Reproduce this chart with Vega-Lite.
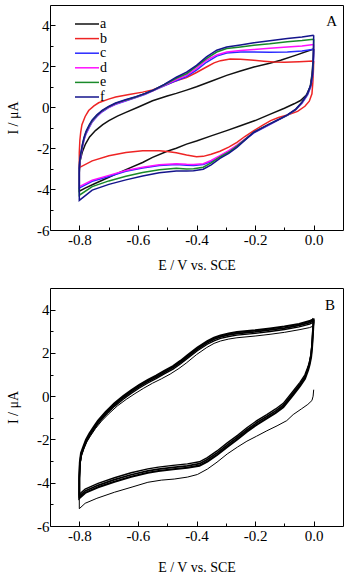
{
  "$schema": "https://vega.github.io/schema/vega-lite/v6.json",
  "padding": {"left": 6, "top": 4, "right": 0, "bottom": 0},
  "background": "white",
  "config": {
    "font": "Liberation Serif",
    "view": {"stroke": "black", "strokeWidth": 1},
    "axis": {
      "domain": false, "grid": false,
      "labelFont": "Liberation Serif", "labelFontSize": 15, "labelColor": "black",
      "titleFont": "Liberation Serif", "titleFontSize": 14, "titleFontWeight": "normal", "titleColor": "black",
      "tickColor": "black", "tickWidth": 1
    }
  },
  "spacing": 14,
  "vconcat": [
    {
      "width": 293, "height": 225,
      "title": {"text": "A", "anchor": "end", "offset": -36, "dx": -6, "fontSize": 15, "fontWeight": "normal", "font": "Liberation Serif", "baseline": "alphabetic", "color": "black"},
      "data": {"values": [
        {"s":"a","x":0,"y":2.85},{"s":"a","x":-0.002,"y":2.3},{"s":"a","x":-0.006,"y":1.6},{"s":"a","x":-0.012,"y":1.0},{"s":"a","x":-0.025,"y":0.6},{"s":"a","x":-0.045,"y":0.33},{"s":"a","x":-0.067,"y":0.17},{"s":"a","x":-0.1,"y":-0.05},{"s":"a","x":-0.15,"y":-0.35},{"s":"a","x":-0.2,"y":-0.65},{"s":"a","x":-0.25,"y":-0.9},{"s":"a","x":-0.297,"y":-1.14},{"s":"a","x":-0.35,"y":-1.4},{"s":"a","x":-0.4,"y":-1.65},{"s":"a","x":-0.434,"y":-1.8},{"s":"a","x":-0.469,"y":-2.0},{"s":"a","x":-0.5,"y":-2.15},{"s":"a","x":-0.55,"y":-2.45},{"s":"a","x":-0.584,"y":-2.7},{"s":"a","x":-0.641,"y":-3.05},{"s":"a","x":-0.699,"y":-3.42},{"s":"a","x":-0.75,"y":-3.75},{"s":"a","x":-0.78,"y":-3.95},{"s":"a","x":-0.8,"y":-4.1},
        {"s":"a","x":-0.8,"y":-3.2},{"s":"a","x":-0.797,"y":-2.6},{"s":"a","x":-0.79,"y":-2.2},{"s":"a","x":-0.779,"y":-1.8},{"s":"a","x":-0.765,"y":-1.45},{"s":"a","x":-0.745,"y":-1.14},{"s":"a","x":-0.72,"y":-0.85},{"s":"a","x":-0.699,"y":-0.65},{"s":"a","x":-0.67,"y":-0.43},{"s":"a","x":-0.641,"y":-0.25},{"s":"a","x":-0.6,"y":0.0},{"s":"a","x":-0.55,"y":0.32},{"s":"a","x":-0.5,"y":0.55},{"s":"a","x":-0.469,"y":0.68},{"s":"a","x":-0.434,"y":0.84},{"s":"a","x":-0.4,"y":1.0},{"s":"a","x":-0.35,"y":1.27},{"s":"a","x":-0.297,"y":1.56},{"s":"a","x":-0.25,"y":1.77},{"s":"a","x":-0.204,"y":1.97},{"s":"a","x":-0.15,"y":2.15},{"s":"a","x":-0.113,"y":2.3},{"s":"a","x":-0.06,"y":2.55},{"s":"a","x":0,"y":2.85},

        {"s":"b","x":0,"y":2.26},{"s":"b","x":-0.001,"y":1.8},{"s":"b","x":-0.003,"y":1.2},{"s":"b","x":-0.006,"y":0.66},{"s":"b","x":-0.015,"y":0.3},{"s":"b","x":-0.03,"y":0.05},{"s":"b","x":-0.055,"y":-0.2},{"s":"b","x":-0.09,"y":-0.38},{"s":"b","x":-0.12,"y":-0.5},{"s":"b","x":-0.147,"y":-0.65},{"s":"b","x":-0.175,"y":-0.88},{"s":"b","x":-0.204,"y":-1.14},{"s":"b","x":-0.235,"y":-1.43},{"s":"b","x":-0.262,"y":-1.72},{"s":"b","x":-0.29,"y":-1.95},{"s":"b","x":-0.32,"y":-2.15},{"s":"b","x":-0.35,"y":-2.3},{"s":"b","x":-0.377,"y":-2.4},{"s":"b","x":-0.4,"y":-2.42},{"s":"b","x":-0.434,"y":-2.33},{"s":"b","x":-0.469,"y":-2.22},{"s":"b","x":-0.5,"y":-2.16},{"s":"b","x":-0.527,"y":-2.13},{"s":"b","x":-0.584,"y":-2.13},{"s":"b","x":-0.641,"y":-2.21},{"s":"b","x":-0.699,"y":-2.37},{"s":"b","x":-0.756,"y":-2.62},{"s":"b","x":-0.8,"y":-2.95},
        {"s":"b","x":-0.8,"y":-2.2},{"s":"b","x":-0.798,"y":-1.6},{"s":"b","x":-0.795,"y":-1.2},{"s":"b","x":-0.791,"y":-0.85},{"s":"b","x":-0.78,"y":-0.45},{"s":"b","x":-0.768,"y":-0.16},{"s":"b","x":-0.75,"y":0.07},{"s":"b","x":-0.734,"y":0.22},{"s":"b","x":-0.7,"y":0.4},{"s":"b","x":-0.676,"y":0.5},{"s":"b","x":-0.63,"y":0.62},{"s":"b","x":-0.584,"y":0.74},{"s":"b","x":-0.55,"y":0.85},{"s":"b","x":-0.527,"y":0.98},{"s":"b","x":-0.5,"y":1.12},{"s":"b","x":-0.469,"y":1.3},{"s":"b","x":-0.434,"y":1.45},{"s":"b","x":-0.4,"y":1.7},{"s":"b","x":-0.366,"y":1.97},{"s":"b","x":-0.34,"y":2.17},{"s":"b","x":-0.318,"y":2.28},{"s":"b","x":-0.285,"y":2.36},{"s":"b","x":-0.25,"y":2.35},{"s":"b","x":-0.204,"y":2.3},{"s":"b","x":-0.17,"y":2.25},{"s":"b","x":-0.136,"y":2.21},{"s":"b","x":-0.1,"y":2.2},{"s":"b","x":-0.05,"y":2.23},{"s":"b","x":0,"y":2.26},

        {"s":"c","x":0,"y":2.84},{"s":"c","x":-0.001,"y":2.2},{"s":"c","x":-0.004,"y":1.5},{"s":"c","x":-0.01,"y":1.0},{"s":"c","x":-0.021,"y":0.6},{"s":"c","x":-0.04,"y":0.2},{"s":"c","x":-0.061,"y":-0.12},{"s":"c","x":-0.09,"y":-0.4},{"s":"c","x":-0.12,"y":-0.62},{"s":"c","x":-0.155,"y":-0.88},{"s":"c","x":-0.204,"y":-1.25},{"s":"c","x":-0.262,"y":-1.88},{"s":"c","x":-0.29,"y":-2.15},{"s":"c","x":-0.32,"y":-2.4},{"s":"c","x":-0.35,"y":-2.65},{"s":"c","x":-0.377,"y":-2.8},{"s":"c","x":-0.41,"y":-2.85},{"s":"c","x":-0.434,"y":-2.83},{"s":"c","x":-0.469,"y":-2.8},{"s":"c","x":-0.527,"y":-2.85},{"s":"c","x":-0.584,"y":-2.97},{"s":"c","x":-0.641,"y":-3.13},{"s":"c","x":-0.699,"y":-3.38},{"s":"c","x":-0.756,"y":-3.62},{"s":"c","x":-0.8,"y":-3.95},
        {"s":"c","x":-0.8,"y":-3.0},{"s":"c","x":-0.799,"y":-2.8},{"s":"c","x":-0.795,"y":-2.4},{"s":"c","x":-0.79,"y":-2.0},{"s":"c","x":-0.784,"y":-1.6},{"s":"c","x":-0.777,"y":-1.3},{"s":"c","x":-0.766,"y":-0.98},{"s":"c","x":-0.756,"y":-0.72},{"s":"c","x":-0.74,"y":-0.45},{"s":"c","x":-0.722,"y":-0.22},{"s":"c","x":-0.7,"y":-0.02},{"s":"c","x":-0.676,"y":0.15},{"s":"c","x":-0.64,"y":0.32},{"s":"c","x":-0.607,"y":0.47},{"s":"c","x":-0.575,"y":0.64},{"s":"c","x":-0.549,"y":0.8},{"s":"c","x":-0.51,"y":1.05},{"s":"c","x":-0.469,"y":1.3},{"s":"c","x":-0.434,"y":1.5},{"s":"c","x":-0.4,"y":1.82},{"s":"c","x":-0.366,"y":2.2},{"s":"c","x":-0.331,"y":2.5},{"s":"c","x":-0.297,"y":2.65},{"s":"c","x":-0.25,"y":2.7},{"s":"c","x":-0.204,"y":2.7},{"s":"c","x":-0.15,"y":2.69},{"s":"c","x":-0.09,"y":2.7},{"s":"c","x":-0.04,"y":2.75},{"s":"c","x":0,"y":2.84},

        {"s":"d","x":0,"y":3.07},{"s":"d","x":-0.001,"y":2.3},{"s":"d","x":-0.004,"y":1.55},{"s":"d","x":-0.01,"y":1.05},{"s":"d","x":-0.021,"y":0.65},{"s":"d","x":-0.04,"y":0.22},{"s":"d","x":-0.061,"y":-0.1},{"s":"d","x":-0.09,"y":-0.38},{"s":"d","x":-0.12,"y":-0.6},{"s":"d","x":-0.155,"y":-0.86},{"s":"d","x":-0.204,"y":-1.23},{"s":"d","x":-0.262,"y":-1.85},{"s":"d","x":-0.29,"y":-2.12},{"s":"d","x":-0.32,"y":-2.37},{"s":"d","x":-0.35,"y":-2.6},{"s":"d","x":-0.377,"y":-2.76},{"s":"d","x":-0.41,"y":-2.8},{"s":"d","x":-0.434,"y":-2.79},{"s":"d","x":-0.469,"y":-2.76},{"s":"d","x":-0.527,"y":-2.81},{"s":"d","x":-0.584,"y":-2.93},{"s":"d","x":-0.641,"y":-3.09},{"s":"d","x":-0.699,"y":-3.33},{"s":"d","x":-0.756,"y":-3.57},{"s":"d","x":-0.8,"y":-3.88},
        {"s":"d","x":-0.8,"y":-3.0},{"s":"d","x":-0.799,"y":-2.75},{"s":"d","x":-0.795,"y":-2.35},{"s":"d","x":-0.79,"y":-1.95},{"s":"d","x":-0.784,"y":-1.56},{"s":"d","x":-0.777,"y":-1.26},{"s":"d","x":-0.766,"y":-0.94},{"s":"d","x":-0.756,"y":-0.69},{"s":"d","x":-0.74,"y":-0.42},{"s":"d","x":-0.722,"y":-0.19},{"s":"d","x":-0.7,"y":0.0},{"s":"d","x":-0.676,"y":0.17},{"s":"d","x":-0.64,"y":0.34},{"s":"d","x":-0.607,"y":0.49},{"s":"d","x":-0.575,"y":0.66},{"s":"d","x":-0.549,"y":0.81},{"s":"d","x":-0.51,"y":1.07},{"s":"d","x":-0.469,"y":1.36},{"s":"d","x":-0.434,"y":1.56},{"s":"d","x":-0.4,"y":1.9},{"s":"d","x":-0.366,"y":2.3},{"s":"d","x":-0.331,"y":2.56},{"s":"d","x":-0.297,"y":2.7},{"s":"d","x":-0.25,"y":2.77},{"s":"d","x":-0.204,"y":2.82},{"s":"d","x":-0.15,"y":2.88},{"s":"d","x":-0.09,"y":2.95},{"s":"d","x":-0.04,"y":3.0},{"s":"d","x":0,"y":3.07},

        {"s":"e","x":0,"y":3.33},{"s":"e","x":-0.001,"y":2.4},{"s":"e","x":-0.004,"y":1.6},{"s":"e","x":-0.01,"y":1.07},{"s":"e","x":-0.021,"y":0.66},{"s":"e","x":-0.04,"y":0.24},{"s":"e","x":-0.061,"y":-0.1},{"s":"e","x":-0.09,"y":-0.38},{"s":"e","x":-0.12,"y":-0.6},{"s":"e","x":-0.155,"y":-0.85},{"s":"e","x":-0.204,"y":-1.22},{"s":"e","x":-0.262,"y":-1.9},{"s":"e","x":-0.29,"y":-2.2},{"s":"e","x":-0.32,"y":-2.43},{"s":"e","x":-0.35,"y":-2.72},{"s":"e","x":-0.377,"y":-2.93},{"s":"e","x":-0.41,"y":-3.0},{"s":"e","x":-0.434,"y":-3.02},{"s":"e","x":-0.469,"y":-2.98},{"s":"e","x":-0.527,"y":-3.05},{"s":"e","x":-0.584,"y":-3.19},{"s":"e","x":-0.641,"y":-3.37},{"s":"e","x":-0.699,"y":-3.6},{"s":"e","x":-0.756,"y":-3.88},{"s":"e","x":-0.8,"y":-4.3},
        {"s":"e","x":-0.8,"y":-3.0},{"s":"e","x":-0.799,"y":-2.7},{"s":"e","x":-0.795,"y":-2.3},{"s":"e","x":-0.79,"y":-1.9},{"s":"e","x":-0.784,"y":-1.52},{"s":"e","x":-0.777,"y":-1.22},{"s":"e","x":-0.766,"y":-0.9},{"s":"e","x":-0.756,"y":-0.66},{"s":"e","x":-0.74,"y":-0.4},{"s":"e","x":-0.722,"y":-0.17},{"s":"e","x":-0.7,"y":0.02},{"s":"e","x":-0.676,"y":0.19},{"s":"e","x":-0.64,"y":0.36},{"s":"e","x":-0.607,"y":0.5},{"s":"e","x":-0.575,"y":0.67},{"s":"e","x":-0.549,"y":0.82},{"s":"e","x":-0.51,"y":1.1},{"s":"e","x":-0.469,"y":1.42},{"s":"e","x":-0.434,"y":1.64},{"s":"e","x":-0.4,"y":2.0},{"s":"e","x":-0.366,"y":2.38},{"s":"e","x":-0.331,"y":2.7},{"s":"e","x":-0.297,"y":2.87},{"s":"e","x":-0.25,"y":2.95},{"s":"e","x":-0.204,"y":3.03},{"s":"e","x":-0.15,"y":3.1},{"s":"e","x":-0.09,"y":3.2},{"s":"e","x":-0.04,"y":3.26},{"s":"e","x":0,"y":3.33},

        {"s":"f","x":0,"y":3.52},{"s":"f","x":-0.001,"y":2.5},{"s":"f","x":-0.004,"y":1.65},{"s":"f","x":-0.01,"y":1.1},{"s":"f","x":-0.021,"y":0.68},{"s":"f","x":-0.04,"y":0.25},{"s":"f","x":-0.061,"y":-0.09},{"s":"f","x":-0.09,"y":-0.37},{"s":"f","x":-0.12,"y":-0.6},{"s":"f","x":-0.155,"y":-0.85},{"s":"f","x":-0.204,"y":-1.22},{"s":"f","x":-0.262,"y":-1.96},{"s":"f","x":-0.29,"y":-2.25},{"s":"f","x":-0.32,"y":-2.5},{"s":"f","x":-0.35,"y":-2.82},{"s":"f","x":-0.377,"y":-3.03},{"s":"f","x":-0.41,"y":-3.1},{"s":"f","x":-0.434,"y":-3.11},{"s":"f","x":-0.469,"y":-3.11},{"s":"f","x":-0.527,"y":-3.2},{"s":"f","x":-0.584,"y":-3.36},{"s":"f","x":-0.641,"y":-3.55},{"s":"f","x":-0.699,"y":-3.77},{"s":"f","x":-0.756,"y":-4.05},{"s":"f","x":-0.8,"y":-4.55},
        {"s":"f","x":-0.8,"y":-3.0},{"s":"f","x":-0.799,"y":-2.65},{"s":"f","x":-0.795,"y":-2.25},{"s":"f","x":-0.79,"y":-1.85},{"s":"f","x":-0.784,"y":-1.48},{"s":"f","x":-0.777,"y":-1.18},{"s":"f","x":-0.766,"y":-0.86},{"s":"f","x":-0.756,"y":-0.62},{"s":"f","x":-0.74,"y":-0.37},{"s":"f","x":-0.722,"y":-0.15},{"s":"f","x":-0.7,"y":0.04},{"s":"f","x":-0.676,"y":0.21},{"s":"f","x":-0.64,"y":0.38},{"s":"f","x":-0.607,"y":0.52},{"s":"f","x":-0.575,"y":0.68},{"s":"f","x":-0.549,"y":0.83},{"s":"f","x":-0.51,"y":1.12},{"s":"f","x":-0.469,"y":1.47},{"s":"f","x":-0.434,"y":1.72},{"s":"f","x":-0.4,"y":2.05},{"s":"f","x":-0.366,"y":2.46},{"s":"f","x":-0.331,"y":2.79},{"s":"f","x":-0.297,"y":2.95},{"s":"f","x":-0.25,"y":3.05},{"s":"f","x":-0.204,"y":3.15},{"s":"f","x":-0.15,"y":3.25},{"s":"f","x":-0.09,"y":3.36},{"s":"f","x":-0.04,"y":3.44},{"s":"f","x":0,"y":3.52}
      ]},
      "mark": {"type": "line", "strokeWidth": 1.5, "clip": true},
      "encoding": {
        "x": {"field": "x", "type": "quantitative",
          "scale": {"domain": [-0.9, 0.1], "nice": false, "zero": false},
          "axis": {"title": "E / V vs. SCE", "titlePadding": 11, "values": [-0.8, -0.7, -0.6, -0.5, -0.4, -0.3, -0.2, -0.1, 0],
            "labelExpr": "round(datum.value*10) % 2 === 0 ? ((datum.value < -0.001 ? '-' : '') + format(abs(datum.value), '.1f')) : ''",
            "tickSize": {"condition": {"test": "round(datum.value*10) % 2 === 0", "value": -5}, "value": -3},
            "labelPadding": 7}},
        "y": {"field": "y", "type": "quantitative",
          "scale": {"domain": [-6, 5], "nice": false, "zero": false},
          "axis": {"title": "I / μA", "titlePadding": 16, "values": [-6, -5, -4, -3, -2, -1, 0, 1, 2, 3, 4],
            "labelExpr": "datum.value % 2 === 0 ? ((datum.value < 0 ? '-' : '') + format(abs(datum.value), 'd')) : ''",
            "tickSize": {"condition": {"test": "datum.value % 2 === 0", "value": -5}, "value": -3},
            "labelPadding": 6}},
        "color": {"field": "s", "type": "nominal",
          "scale": {"domain": ["a", "b", "c", "d", "e", "f"], "range": ["#111111", "#ee2424", "#2a2aff", "#ff10ff", "#1a8a2a", "#14148c"]},
          "legend": {"title": null, "orient": "none", "legendX": 30, "legendY": 12, "symbolType": "M-2,0H2", "symbolSize": 144, "symbolStrokeWidth": 1.5, "labelFontSize": 14, "labelFont": "Liberation Serif", "labelColor": "black", "rowPadding": 0.6, "padding": 0, "labelOffset": 6}},
        "order": {"value": null}
      }
    },
    {
      "width": 293, "height": 238,
      "title": {"text": "B", "anchor": "end", "offset": -37, "dx": -8, "fontSize": 15, "fontWeight": "normal", "font": "Liberation Serif", "baseline": "alphabetic", "color": "black"},
      "data": {"values": [
        {"c":"1","x":0,"y":0.3},{"c":"1","x":-0.002,"y":0.0},{"c":"1","x":-0.006,"y":-0.2},{"c":"1","x":-0.02,"y":-0.38},{"c":"1","x":-0.041,"y":-0.58},{"c":"1","x":-0.07,"y":-0.85},{"c":"1","x":-0.092,"y":-1.13},{"c":"1","x":-0.125,"y":-1.37},{"c":"1","x":-0.16,"y":-1.6},{"c":"1","x":-0.195,"y":-1.85},{"c":"1","x":-0.228,"y":-2.08},{"c":"1","x":-0.26,"y":-2.35},{"c":"1","x":-0.295,"y":-2.67},{"c":"1","x":-0.33,"y":-3.05},{"c":"1","x":-0.363,"y":-3.37},{"c":"1","x":-0.397,"y":-3.62},{"c":"1","x":-0.431,"y":-3.74},{"c":"1","x":-0.476,"y":-3.83},{"c":"1","x":-0.52,"y":-3.88},{"c":"1","x":-0.566,"y":-3.98},{"c":"1","x":-0.62,"y":-4.2},{"c":"1","x":-0.68,"y":-4.44},{"c":"1","x":-0.74,"y":-4.72},{"c":"1","x":-0.78,"y":-4.95},{"c":"1","x":-0.8,"y":-5.2},
        {"c":"1","x":-0.8,"y":-4.2},{"c":"1","x":-0.799,"y":-3.6},{"c":"1","x":-0.797,"y":-3.1},{"c":"1","x":-0.792,"y":-2.75},{"c":"1","x":-0.784,"y":-2.4},{"c":"1","x":-0.773,"y":-2.08},{"c":"1","x":-0.76,"y":-1.8},{"c":"1","x":-0.745,"y":-1.5},{"c":"1","x":-0.724,"y":-1.15},{"c":"1","x":-0.7,"y":-0.82},{"c":"1","x":-0.67,"y":-0.45},{"c":"1","x":-0.64,"y":-0.15},{"c":"1","x":-0.61,"y":0.12},{"c":"1","x":-0.58,"y":0.37},{"c":"1","x":-0.55,"y":0.6},{"c":"1","x":-0.52,"y":0.8},{"c":"1","x":-0.49,"y":1.02},{"c":"1","x":-0.46,"y":1.28},{"c":"1","x":-0.435,"y":1.53},{"c":"1","x":-0.4,"y":1.92},{"c":"1","x":-0.365,"y":2.25},{"c":"1","x":-0.34,"y":2.44},{"c":"1","x":-0.318,"y":2.55},{"c":"1","x":-0.29,"y":2.64},{"c":"1","x":-0.262,"y":2.7},{"c":"1","x":-0.2,"y":2.78},{"c":"1","x":-0.149,"y":2.86},{"c":"1","x":-0.1,"y":2.95},{"c":"1","x":-0.05,"y":3.07},{"c":"1","x":-0.014,"y":3.17},{"c":"1","x":0,"y":3.25},

        {"c":"2","x":0,"y":3.45},{"c":"2","x":-0.002,"y":3.2},{"c":"2","x":-0.004,"y":2.75},{"c":"2","x":-0.006,"y":2.37},{"c":"2","x":-0.009,"y":1.98},{"c":"2","x":-0.014,"y":1.63},{"c":"2","x":-0.019,"y":1.38},{"c":"2","x":-0.03,"y":0.99},{"c":"2","x":-0.047,"y":0.64},{"c":"2","x":-0.07,"y":0.24},{"c":"2","x":-0.104,"y":-0.33},{"c":"2","x":-0.13,"y":-0.59},{"c":"2","x":-0.16,"y":-0.85},{"c":"2","x":-0.194,"y":-1.13},{"c":"2","x":-0.228,"y":-1.46},{"c":"2","x":-0.26,"y":-1.81},{"c":"2","x":-0.295,"y":-2.16},{"c":"2","x":-0.33,"y":-2.53},{"c":"2","x":-0.363,"y":-2.84},{"c":"2","x":-0.39,"y":-3.03},{"c":"2","x":-0.431,"y":-3.13},{"c":"2","x":-0.48,"y":-3.2},{"c":"2","x":-0.53,"y":-3.28},{"c":"2","x":-0.566,"y":-3.36},{"c":"2","x":-0.623,"y":-3.54},{"c":"2","x":-0.68,"y":-3.77},{"c":"2","x":-0.736,"y":-4.03},{"c":"2","x":-0.78,"y":-4.29},{"c":"2","x":-0.8,"y":-4.53},
        {"c":"2","x":-0.8,"y":-3.87},{"c":"2","x":-0.798,"y":-3.2},{"c":"2","x":-0.794,"y":-2.77},{"c":"2","x":-0.786,"y":-2.47},{"c":"2","x":-0.777,"y":-2.15},{"c":"2","x":-0.765,"y":-1.85},{"c":"2","x":-0.75,"y":-1.55},{"c":"2","x":-0.736,"y":-1.27},{"c":"2","x":-0.71,"y":-0.87},{"c":"2","x":-0.68,"y":-0.47},{"c":"2","x":-0.65,"y":-0.14},{"c":"2","x":-0.623,"y":0.13},{"c":"2","x":-0.595,"y":0.38},{"c":"2","x":-0.566,"y":0.61},{"c":"2","x":-0.538,"y":0.81},{"c":"2","x":-0.51,"y":1.03},{"c":"2","x":-0.48,"y":1.25},{"c":"2","x":-0.454,"y":1.5},{"c":"2","x":-0.43,"y":1.76},{"c":"2","x":-0.397,"y":2.1},{"c":"2","x":-0.363,"y":2.4},{"c":"2","x":-0.34,"y":2.56},{"c":"2","x":-0.318,"y":2.67},{"c":"2","x":-0.29,"y":2.76},{"c":"2","x":-0.262,"y":2.82},{"c":"2","x":-0.2,"y":2.9},{"c":"2","x":-0.149,"y":2.99},{"c":"2","x":-0.1,"y":3.08},{"c":"2","x":-0.05,"y":3.2},{"c":"2","x":-0.014,"y":3.33},{"c":"2","x":-0.004,"y":3.4},{"c":"2","x":0,"y":3.45},

        {"c":"3","x":0,"y":3.52},{"c":"3","x":-0.002,"y":3.2},{"c":"3","x":-0.004,"y":2.7},{"c":"3","x":-0.006,"y":2.3},{"c":"3","x":-0.009,"y":1.9},{"c":"3","x":-0.014,"y":1.55},{"c":"3","x":-0.019,"y":1.3},{"c":"3","x":-0.03,"y":0.9},{"c":"3","x":-0.047,"y":0.55},{"c":"3","x":-0.07,"y":0.15},{"c":"3","x":-0.104,"y":-0.42},{"c":"3","x":-0.13,"y":-0.68},{"c":"3","x":-0.16,"y":-0.94},{"c":"3","x":-0.194,"y":-1.22},{"c":"3","x":-0.228,"y":-1.55},{"c":"3","x":-0.26,"y":-1.9},{"c":"3","x":-0.295,"y":-2.25},{"c":"3","x":-0.33,"y":-2.62},{"c":"3","x":-0.363,"y":-2.93},{"c":"3","x":-0.39,"y":-3.12},{"c":"3","x":-0.431,"y":-3.22},{"c":"3","x":-0.48,"y":-3.29},{"c":"3","x":-0.53,"y":-3.37},{"c":"3","x":-0.566,"y":-3.45},{"c":"3","x":-0.623,"y":-3.63},{"c":"3","x":-0.68,"y":-3.86},{"c":"3","x":-0.736,"y":-4.12},{"c":"3","x":-0.78,"y":-4.38},{"c":"3","x":-0.8,"y":-4.62},
        {"c":"3","x":-0.8,"y":-3.8},{"c":"3","x":-0.798,"y":-3.13},{"c":"3","x":-0.794,"y":-2.7},{"c":"3","x":-0.786,"y":-2.4},{"c":"3","x":-0.777,"y":-2.08},{"c":"3","x":-0.765,"y":-1.78},{"c":"3","x":-0.75,"y":-1.48},{"c":"3","x":-0.736,"y":-1.2},{"c":"3","x":-0.71,"y":-0.8},{"c":"3","x":-0.68,"y":-0.4},{"c":"3","x":-0.65,"y":-0.07},{"c":"3","x":-0.623,"y":0.2},{"c":"3","x":-0.595,"y":0.45},{"c":"3","x":-0.566,"y":0.68},{"c":"3","x":-0.538,"y":0.88},{"c":"3","x":-0.51,"y":1.1},{"c":"3","x":-0.48,"y":1.32},{"c":"3","x":-0.454,"y":1.57},{"c":"3","x":-0.43,"y":1.83},{"c":"3","x":-0.397,"y":2.17},{"c":"3","x":-0.363,"y":2.47},{"c":"3","x":-0.34,"y":2.63},{"c":"3","x":-0.318,"y":2.74},{"c":"3","x":-0.29,"y":2.83},{"c":"3","x":-0.262,"y":2.89},{"c":"3","x":-0.2,"y":2.97},{"c":"3","x":-0.149,"y":3.06},{"c":"3","x":-0.1,"y":3.15},{"c":"3","x":-0.05,"y":3.27},{"c":"3","x":-0.014,"y":3.4},{"c":"3","x":-0.004,"y":3.47},{"c":"3","x":0,"y":3.52},

        {"c":"4","x":0,"y":3.59},{"c":"4","x":-0.002,"y":3.11},{"c":"4","x":-0.004,"y":2.61},{"c":"4","x":-0.006,"y":2.21},{"c":"4","x":-0.009,"y":1.81},{"c":"4","x":-0.014,"y":1.46},{"c":"4","x":-0.019,"y":1.21},{"c":"4","x":-0.03,"y":0.81},{"c":"4","x":-0.047,"y":0.46},{"c":"4","x":-0.07,"y":0.06},{"c":"4","x":-0.104,"y":-0.51},{"c":"4","x":-0.13,"y":-0.77},{"c":"4","x":-0.16,"y":-1.03},{"c":"4","x":-0.194,"y":-1.31},{"c":"4","x":-0.228,"y":-1.64},{"c":"4","x":-0.26,"y":-1.99},{"c":"4","x":-0.295,"y":-2.34},{"c":"4","x":-0.33,"y":-2.71},{"c":"4","x":-0.363,"y":-3.02},{"c":"4","x":-0.39,"y":-3.21},{"c":"4","x":-0.431,"y":-3.31},{"c":"4","x":-0.48,"y":-3.38},{"c":"4","x":-0.53,"y":-3.46},{"c":"4","x":-0.566,"y":-3.54},{"c":"4","x":-0.623,"y":-3.72},{"c":"4","x":-0.68,"y":-3.95},{"c":"4","x":-0.736,"y":-4.21},{"c":"4","x":-0.78,"y":-4.47},{"c":"4","x":-0.8,"y":-4.71},
        {"c":"4","x":-0.8,"y":-3.73},{"c":"4","x":-0.798,"y":-3.06},{"c":"4","x":-0.794,"y":-2.63},{"c":"4","x":-0.786,"y":-2.33},{"c":"4","x":-0.777,"y":-2.01},{"c":"4","x":-0.765,"y":-1.71},{"c":"4","x":-0.75,"y":-1.41},{"c":"4","x":-0.736,"y":-1.13},{"c":"4","x":-0.71,"y":-0.73},{"c":"4","x":-0.68,"y":-0.33},{"c":"4","x":-0.65,"y":0.0},{"c":"4","x":-0.623,"y":0.27},{"c":"4","x":-0.595,"y":0.52},{"c":"4","x":-0.566,"y":0.75},{"c":"4","x":-0.538,"y":0.95},{"c":"4","x":-0.51,"y":1.17},{"c":"4","x":-0.48,"y":1.39},{"c":"4","x":-0.454,"y":1.64},{"c":"4","x":-0.43,"y":1.9},{"c":"4","x":-0.397,"y":2.24},{"c":"4","x":-0.363,"y":2.54},{"c":"4","x":-0.34,"y":2.7},{"c":"4","x":-0.318,"y":2.81},{"c":"4","x":-0.29,"y":2.9},{"c":"4","x":-0.262,"y":2.96},{"c":"4","x":-0.2,"y":3.04},{"c":"4","x":-0.149,"y":3.13},{"c":"4","x":-0.1,"y":3.22},{"c":"4","x":-0.05,"y":3.34},{"c":"4","x":-0.014,"y":3.47},{"c":"4","x":-0.004,"y":3.54},{"c":"4","x":0,"y":3.59}
      ]},
      "mark": {"type": "line", "color": "black", "clip": true},
      "encoding": {
        "x": {"field": "x", "type": "quantitative",
          "scale": {"domain": [-0.9, 0.1], "nice": false, "zero": false},
          "axis": {"title": "E / V vs. SCE", "titlePadding": 17, "values": [-0.8, -0.7, -0.6, -0.5, -0.4, -0.3, -0.2, -0.1, 0],
            "labelExpr": "round(datum.value*10) % 2 === 0 ? ((datum.value < -0.001 ? '-' : '') + format(abs(datum.value), '.1f')) : ''",
            "tickSize": {"condition": {"test": "round(datum.value*10) % 2 === 0", "value": -5}, "value": -3},
            "labelPadding": 7}},
        "y": {"field": "y", "type": "quantitative",
          "scale": {"domain": [-6, 5], "nice": false, "zero": false},
          "axis": {"title": "I / μA", "titlePadding": 16, "values": [-6, -5, -4, -3, -2, -1, 0, 1, 2, 3, 4],
            "labelExpr": "datum.value % 2 === 0 ? ((datum.value < 0 ? '-' : '') + format(abs(datum.value), 'd')) : ''",
            "tickSize": {"condition": {"test": "datum.value % 2 === 0", "value": -5}, "value": -3},
            "labelPadding": 6}},
        "detail": {"field": "c", "type": "nominal"},
        "strokeWidth": {"field": "c", "type": "ordinal", "scale": {"domain": ["1", "2", "3", "4"], "range": [1, 2.1, 2.1, 2.1]}, "legend": null},
        "order": {"value": null}
      }
    }
  ]
}
